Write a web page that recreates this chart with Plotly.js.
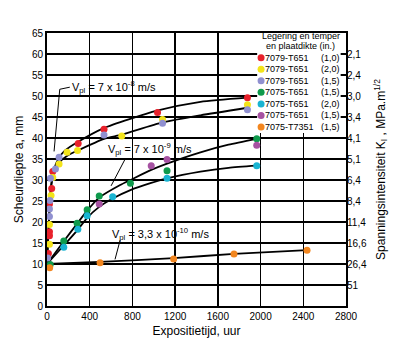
<!DOCTYPE html>
<html><head><meta charset="utf-8">
<script src="https://cdn.plot.ly/plotly-3.0.1.min.js"></script>
<style>html,body{margin:0;padding:0;background:#fff}#chart{width:400px;height:351px}</style>
</head><body><div id="chart"></div>
<script>
// ---- series (legend) ----
const seriesNames = ['7079-T651','7079-T651','7079-T651','7075-T651','7075-T651','7075-T651','7075-T7351'];
const seriesThickness = ['(1,0)','(2,0)','(1,5)','(1,5)','(2,0)','(1,5)','(1,5)'];
const seriesColors = ['#e8212b','#f3e41a','#9090d0','#0e9a4c','#19b4d2','#a652a2','#f2861f'];

// ---- measured points: exposure time (h) and crack depth (mm) ----
const red_t    = [13, 23, 23, 23, 44, 54, 292, 534, 1035, 1877];
const red_a    = [12.5, 16.7, 17.7, 24.3, 28.0, 32.0, 38.7, 42.1, 46.1, 49.6];
const yellow_t = [23, 23, 38, 54, 113, 188, 286, 700, 1082, 1877];
const yellow_a = [14.7, 19.4, 26.3, 30.6, 33.8, 36.6, 37.0, 40.5, 44.4, 47.9];
const lav_t    = [6, 23, 23, 28, 32, 79, 113, 534, 1082, 1877];
const lav_a    = [11.4, 21.3, 23.1, 25.1, 30.4, 32.6, 35.4, 40.7, 43.5, 46.7];
const green_t  = [30, 157, 282, 376, 489, 781, 1124, 1964];
const green_a  = [9.9, 15.5, 19.7, 22.9, 26.2, 29.2, 32.2, 39.8];
const cyan_t   = [157, 289, 376, 615, 1124, 1964];
const cyan_a   = [14.0, 18.3, 21.5, 26.0, 30.4, 33.4];
const purple_t = [489, 976, 1124, 1964];
const purple_a = [24.3, 33.4, 34.9, 38.3];
const orange_t = [25, 497, 1186, 1751, 2435];
const orange_a = [9.1, 10.3, 11.2, 12.4, 13.3];

// ---- drawn curves ----
const curveA_t = [0, 12, 25, 40, 63, 110, 167, 292, 527, 1030, 1437, 1877];
const curveA_a = [10, 17, 24, 29, 32.4, 35.2, 37.0, 39.1, 42.3, 46.5, 48.6, 49.6];
const curveB_t = [0, 12, 25, 40, 56, 120, 190, 286, 534, 700, 1082, 1437, 1877];
const curveB_a = [10, 17, 24, 28.5, 31.0, 34.3, 35.8, 37.0, 39.8, 40.8, 43.7, 45.4, 47.2];
const curveC_t = [0, 157, 282, 376, 489, 685, 781, 976, 1124, 1437, 1700, 1964];
const curveC_a = [10, 15.4, 19.6, 22.7, 25.8, 28.8, 30.0, 32.4, 33.9, 36.6, 38.4, 39.8];
const curveD_t = [0, 157, 289, 376, 489, 615, 781, 976, 1124, 1437, 1700, 1964];
const curveD_a = [10, 14.4, 18.2, 21.0, 23.6, 25.6, 27.6, 29.3, 30.4, 32.0, 32.9, 33.4];
const curveE_t = [0, 497, 1186, 1751, 2435];
const curveE_a = [10, 10.5, 11.4, 12.4, 13.3];

// ---- right axis (stress intensity) ----
const kDepths = [5, 10, 15, 20, 25, 30, 35, 40, 45, 50, 55, 60];
const kLabels = ['51','26,4','16,6','11,4','8,4','6,4','5,1','4,1','3,4','3,0','2,4','2,1'];

const FONT = 'Liberation Sans, Arial, sans-serif';
const pts = [[red_t,red_a],[yellow_t,yellow_a],[lav_t,lav_a],[green_t,green_a],[cyan_t,cyan_a],[purple_t,purple_a],[orange_t,orange_a]];

const traces = [];
[[curveA_t,curveA_a],[curveB_t,curveB_a],[curveC_t,curveC_a],[curveD_t,curveD_a],[curveE_t,curveE_a]].forEach(c=>{
  traces.push({x:c[0], y:c[1], type:'scatter', mode:'lines', line:{color:'#000', width:1.8, shape:'spline', smoothing:0.6}, showlegend:false, hoverinfo:'skip'});
});
pts.forEach((p,i)=>{
  traces.push({x:p[0], y:p[1], type:'scatter', mode:'markers', name:seriesNames[i]+' '+seriesThickness[i],
    marker:{color:seriesColors[i], size:7, line:{width:0}}, showlegend:false});
});
// right axis carrier
traces.push({x:[], y:[], yaxis:'y2', type:'scatter', mode:'markers', showlegend:false, hoverinfo:'skip'});
// custom legend keys
const legendRows = seriesNames.map((_,i)=>i);
const legendKeyX = 0.716;
traces.push({x:legendRows.map(()=>legendKeyX), y:legendRows, xaxis:'x3', yaxis:'y3', type:'scatter', mode:'markers',
  marker:{color:seriesColors, size:7, line:{width:0}}, showlegend:false, hoverinfo:'skip'});

const LF = {family:FONT, size:9, color:'#000'};
const annotations = [
  {xref:'x', yref:'y', x:214, y:52.1, xanchor:'left', yanchor:'middle', showarrow:false,
   text:'V<sub>pl</sub> = 7 x 10<sup>-8</sup> m/s', font:{family:FONT, size:11, color:'#000'}},
  {xref:'x', yref:'y', x:555, y:37.4, xanchor:'left', yanchor:'middle', showarrow:false,
   text:'V<sub>pl</sub> = 7 x 10<sup>-9</sup> m/s', font:{family:FONT, size:11, color:'#000'}},
  {xref:'x', yref:'y', x:587, y:17.1, xanchor:'left', yanchor:'middle', showarrow:false,
   text:'V<sub>pl</sub> = 3,3 x 10<sup>-10</sup> m/s', font:{family:FONT, size:11, color:'#000'}},
  {xref:'x3', yref:'y3', x:0.849, y:-1.85, xanchor:'center', yanchor:'middle', showarrow:false,
   text:'Legering en temper', font:LF, borderpad:0},
  {xref:'x3', yref:'y3', x:0.849, y:-0.98, xanchor:'center', yanchor:'middle', showarrow:false,
   text:'en plaatdikte (in.)', font:LF, borderpad:0}
];
legendRows.forEach(i=>{
  annotations.push({xref:'x3', yref:'y3', x:0.727, y:i, xanchor:'left', yanchor:'middle', showarrow:false,
    text:seriesNames[i], font:LF, borderpad:0});
  annotations.push({xref:'x3', yref:'y3', x:0.982, y:i, xanchor:'right', yanchor:'middle', showarrow:false,
    text:seriesThickness[i], font:LF, borderpad:0});
});

const leaders = [
  [119.5, 51.6, 213.6, 52.1],
  [119.5, 51.6, 66, 36.8],
  [732, 35.0, 600, 28.6],
  [685, 15.7, 637, 11.1]
];
const shapes = [
  // white backing behind the legend block (hides grid there)
  {type:'rect', xref:'x', yref:'y', x0:1968, x1:2750, y0:41.2, y1:65, fillcolor:'#fff', line:{width:0}, layer:'between'}
];
leaders.forEach(l=>shapes.push({type:'line', xref:'x', yref:'y', x0:l[0], y0:l[1], x1:l[2], y1:l[3], line:{color:'#000', width:1}, layer:'above'}));

const axBase = {showgrid:true, gridcolor:'#000', gridwidth:1.3, showline:true, linecolor:'#000', linewidth:2,
  mirror:true, ticks:'', zeroline:false, tickfont:{family:FONT, size:10, color:'#000'}};

const layout = {
  width:400, height:351,
  margin:{l:47, r:54, t:33, b:45},
  paper_bgcolor:'#fff', plot_bgcolor:'#fff',
  font:{family:FONT, color:'#000'},
  showlegend:false,
  xaxis:Object.assign({}, axBase, {range:[0,2800], tick0:0, dtick:400,
    title:{text:'Expositietijd, uur', font:{family:FONT, size:12, color:'#000'}, standoff:6}}),
  yaxis:Object.assign({}, axBase, {range:[0,65], tick0:0, dtick:5,
    title:{text:'Scheurdiepte a, mm', font:{family:FONT, size:12, color:'#000'}, standoff:6}}),
  yaxis2:{overlaying:'y', side:'right', anchor:'x', range:[0,65], tickmode:'array', tickvals:kDepths, ticktext:kLabels,
    showgrid:false, zeroline:false, showline:false, ticks:'', tickfont:{family:FONT, size:10, color:'#000'},
    title:{text:'Spanningsintensiteit K<sub>I</sub> , MPa.m<sup>1/2</sup>', font:{family:FONT, size:12, color:'#000'}, standoff:10}},
  xaxis3:{overlaying:'x', anchor:'y3', range:[0,1], visible:false, fixedrange:true},
  yaxis3:{overlaying:'y', anchor:'x3', range:[21.5,-2.14], visible:false, fixedrange:true},
  annotations:annotations,
  shapes:shapes
};

Plotly.newPlot('chart', traces, layout, {displayModeBar:false, staticPlot:true});
</script></body></html>
